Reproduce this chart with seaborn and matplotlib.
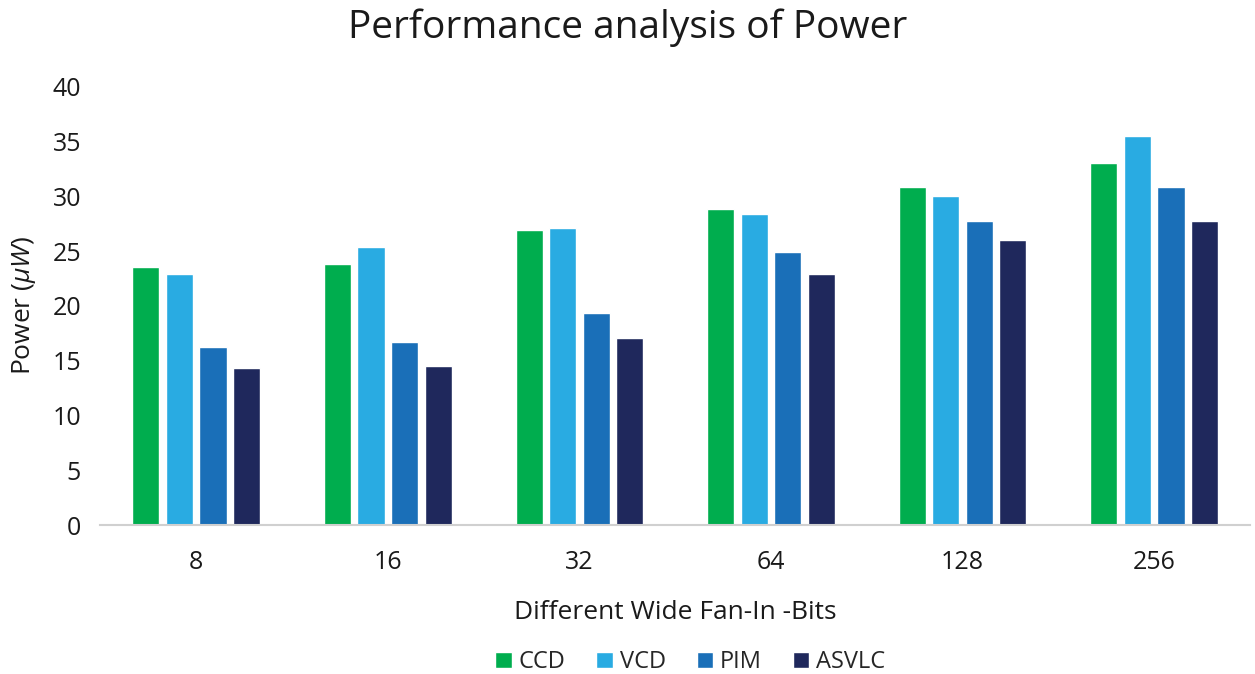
import matplotlib
matplotlib.use("Agg")
import matplotlib.pyplot as plt
import seaborn as sns
import pandas as pd

categories = ["8", "16", "32", "64", "128", "256"]
series_names = ["CCD", "VCD", "PIM", "ASVLC"]
ccd = [23.6, 23.8, 26.9, 28.9, 30.9, 33.1]
vcd = [22.9, 25.4, 27.1, 28.4, 30.0, 35.5]
pim = [16.3, 16.7, 19.4, 24.9, 27.8, 30.9]
asvlc = [14.3, 14.5, 17.1, 22.9, 26.0, 27.8]
yticks = [0, 5, 10, 15, 20, 25, 30, 35, 40]

colors = ["#00ad4e", "#29abe2", "#1a6fb8", "#1f285c"]

rows = []
for name, vals in zip(series_names, [ccd, vcd, pim, asvlc]):
    for c, v in zip(categories, vals):
        rows.append({"bits": c, "method": name, "power": v})
df = pd.DataFrame(rows)

sns.set_theme(style="white")
plt.rcParams["font.family"] = ["Open Sans", "DejaVu Sans"]
plt.rcParams["mathtext.fontset"] = "custom"
plt.rcParams["mathtext.it"] = "Open Sans:italic"
plt.rcParams["mathtext.rm"] = "Open Sans"

fig = plt.figure(figsize=(12.55, 6.74), dpi=100)
ax = fig.add_axes([0.080, 0.221, 0.916, 0.650])

sns.barplot(data=df, x="bits", y="power", hue="method", order=categories,
            hue_order=series_names, palette=colors, width=0.70, gap=0.19,
            saturation=1, ax=ax, legend=True)

txt = "#1a1a1a"
ax.set_ylim(0, 40)
ax.set_xlim(-0.5, 5.5)
ax.set_yticks(yticks)
ax.set_yticklabels([str(t) for t in yticks], fontsize=18, color=txt)
ax.tick_params(axis="x", labelsize=18, colors=txt, length=0, pad=18)
ax.tick_params(axis="y", length=0, pad=14)
for s in ["top", "right", "left"]:
    ax.spines[s].set_visible(False)
ax.spines["bottom"].set_color("#d0d0d0")
ax.spines["bottom"].set_linewidth(1.5)

ax.set_xlabel("Different Wide Fan-In -Bits", fontsize=19, color=txt, labelpad=18)
ax.set_ylabel(r"Power ($\mu W$)", fontsize=19, color=txt, labelpad=10)
fig.suptitle("Performance analysis of Power", fontsize=28, y=0.988, color=txt)

handles, labels = ax.get_legend_handles_labels()
ax.legend_.remove()
fig.legend(handles, labels, loc="lower center", bbox_to_anchor=(0.55, -0.032),
           ncol=4, frameon=False, fontsize=17, handlelength=0.7, handleheight=0.7,
           columnspacing=1.3, handletextpad=0.3)

fig.savefig("out.png", dpi=100)
